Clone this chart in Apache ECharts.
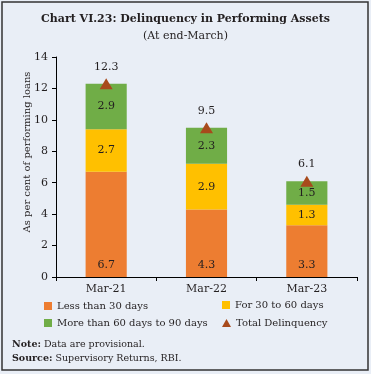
<!DOCTYPE html>
<html><head><meta charset="utf-8">
<script src="https://cdn.jsdelivr.net/npm/echarts@6/dist/echarts.min.js"></script>
<style>html,body{margin:0;padding:0;background:#fff}#c{width:371px;height:374px}</style>
</head><body><div id="c"></div>
<script>
const categories = ['Mar-21', 'Mar-22', 'Mar-23'];
const lessThan30 = [6.7, 4.3, 3.3];
const from30to60 = [2.7, 2.9, 1.3];
const from60to90 = [2.9, 2.3, 1.5];
const totalDelinquency = [12.3, 9.5, 6.1];
const yTicks = [0, 2, 4, 6, 8, 10, 12, 14];

const FONT = 'DejaVu Serif';
const TXT = '#231f20';
const chart = echarts.init(document.getElementById('c'));
const legendText = {fontFamily: FONT, fontSize: 10, color: TXT};
chart.setOption({
  backgroundColor: '#e9eef6',
  animation: false,
  textStyle: {fontFamily: FONT, color: TXT},
  title: [
    {text: 'Chart VI.23: Delinquency in Performing Assets', left: 'center', top: 9,
     textStyle: {fontFamily: FONT, fontSize: 11, fontWeight: 'bold', color: TXT}},
    {text: '(At end-March)', left: 'center', top: 26,
     textStyle: {fontFamily: FONT, fontSize: 11, fontWeight: 'normal', color: TXT}},
    {text: '{b|Note:} Data are provisional.\n{b|Source:} Supervisory Returns, RBI.', left: 7, top: 333,
     textStyle: {fontFamily: FONT, fontSize: 9.5, fontWeight: 'normal', color: TXT, lineHeight: 14,
       rich: {b: {fontFamily: FONT, fontSize: 9.5, fontWeight: 'bold', color: TXT}}}}
  ],
  legend: [
    {data: [{name: 'Less than 30 days', icon: 'rect'}], left: 39, top: 296, itemWidth: 8, itemHeight: 8, itemGap: 2, textStyle: legendText},
    {data: [{name: 'For 30 to 60 days', icon: 'rect'}], left: 217, top: 295, itemWidth: 8, itemHeight: 8, itemGap: 2, textStyle: legendText},
    {data: [{name: 'More than 60 days to 90 days', icon: 'rect'}], left: 39, top: 313, itemWidth: 8, itemHeight: 8, itemGap: 2, textStyle: legendText},
    {data: ['Total Delinquency'], left: 217, top: 313, itemWidth: 9, itemHeight: 8, itemGap: 4, textStyle: legendText}
  ],
  grid: {left: 56, right: 14, top: 57, bottom: 97, containLabel: false},
  xAxis: {
    type: 'category', data: categories,
    axisLine: {lineStyle: {color: '#000', width: 1}},
    axisTick: {show: true, alignWithLabel: false, length: 4, lineStyle: {color: '#000'}},
    axisLabel: {fontFamily: FONT, fontSize: 11, color: TXT, margin: 7}
  },
  yAxis: {
    type: 'value', min: yTicks[0], max: yTicks[yTicks.length - 1], interval: 2,
    name: 'As per cent of performing loans', nameLocation: 'middle', nameGap: 24, nameMoveOverlap: false,
    nameTextStyle: {fontFamily: FONT, fontSize: 10, color: TXT, padding: [0, 0, 0, 30]},
    axisLine: {show: true, lineStyle: {color: '#000', width: 1}},
    axisTick: {show: true, length: 4, lineStyle: {color: '#000'}},
    splitLine: {show: false},
    axisLabel: {fontFamily: FONT, fontSize: 11, color: TXT, margin: 8}
  },
  series: [
    {name: 'Less than 30 days', type: 'bar', stack: 't', data: lessThan30, barWidth: '41%',
     itemStyle: {color: '#ed7d31'},
     label: {show: true, position: 'insideBottom', distance: 6, fontFamily: FONT, fontSize: 11, color: TXT}},
    {name: 'For 30 to 60 days', type: 'bar', stack: 't', data: from30to60,
     itemStyle: {color: '#ffc000'},
     label: {show: true, position: 'inside', fontFamily: FONT, fontSize: 11, color: TXT}},
    {name: 'More than 60 days to 90 days', type: 'bar', stack: 't', data: from60to90,
     itemStyle: {color: '#70ad47'},
     label: {show: true, position: 'inside', fontFamily: FONT, fontSize: 11, color: TXT}},
    {name: 'Total Delinquency', type: 'scatter', data: totalDelinquency, symbol: 'triangle', symbolSize: [13, 11],
     itemStyle: {color: '#a84a1c', opacity: 1}, z: 5,
     label: {show: true, position: 'top', distance: 6, fontFamily: FONT, fontSize: 11, color: TXT, opacity: 1,
       formatter: p => p.value.toFixed(1)}}
  ],
  graphic: [
    {type: 'rect', shape: {x: 2, y: 2, width: 366, height: 368}, z: 100,
     style: {fill: 'none', stroke: '#333', lineWidth: 1.5}}
  ]
});
</script></body></html>
